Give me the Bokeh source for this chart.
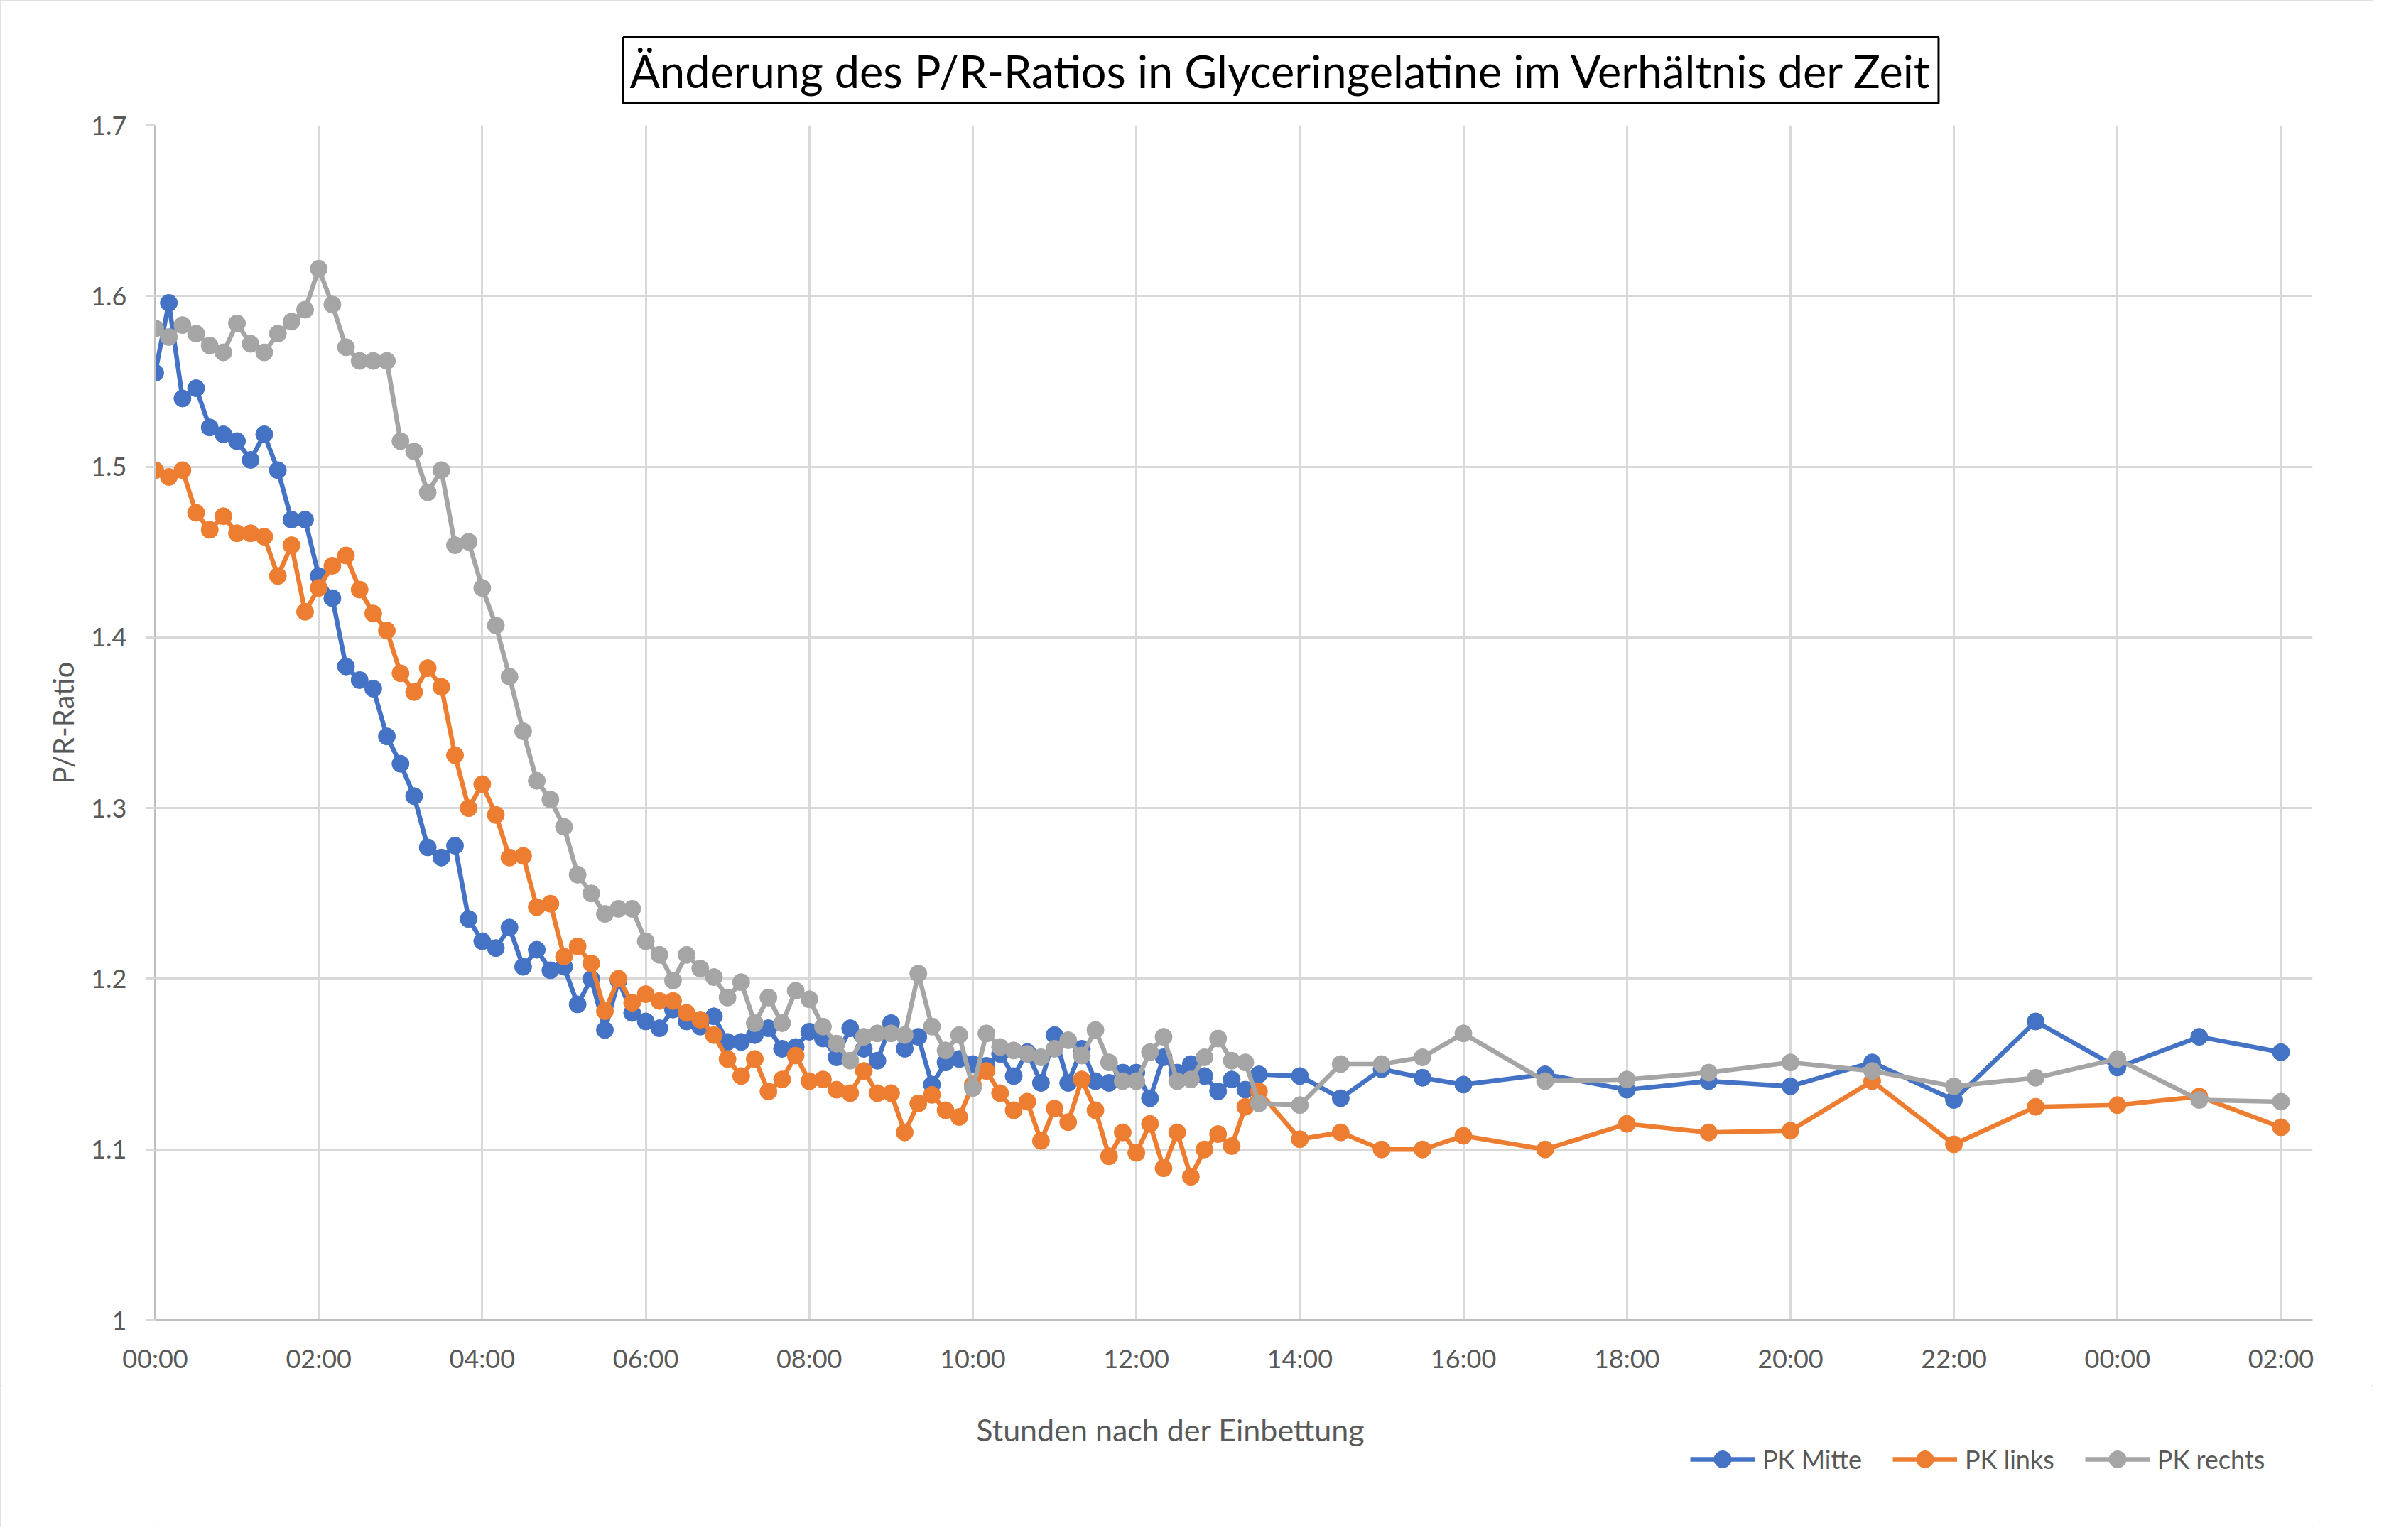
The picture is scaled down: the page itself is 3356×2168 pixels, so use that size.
from bokeh.plotting import figure
from bokeh.layouts import column
from bokeh.models import (Range1d, FixedTicker, CustomJSTickFormatter, Title, Label,
                          Legend, LegendItem)
from bokeh.embed import file_html
from bokeh.resources import INLINE

# --- data -------------------------------------------------------------
minutes = [0, 10, 20, 30, 40, 50, 60, 70, 80, 90,
           100, 110, 120, 130, 140, 150, 160, 170, 180, 190,
           200, 210, 220, 230, 240, 250, 260, 270, 280, 290,
           300, 310, 320, 330, 340, 350, 360, 370, 380, 390,
           400, 410, 420, 430, 440, 450, 460, 470, 480, 490,
           500, 510, 520, 530, 540, 550, 560, 570, 580, 590,
           600, 610, 620, 630, 640, 650, 660, 670, 680, 690,
           700, 710, 720, 730, 740, 750, 760, 770, 780, 790,
           800, 810,
           840, 870, 900, 930, 960, 1020, 1080, 1140, 1200, 1260,
           1320, 1380, 1440, 1500, 1560]

pk_mitte = [1.555, 1.596, 1.540, 1.546, 1.523, 1.519, 1.515, 1.504, 1.519, 1.498,
            1.469, 1.469, 1.436, 1.423, 1.383, 1.375, 1.370, 1.342, 1.326, 1.307,
            1.277, 1.271, 1.278, 1.235, 1.222, 1.218, 1.230, 1.207, 1.217, 1.205,
            1.207, 1.185, 1.200, 1.170, 1.199, 1.180, 1.175, 1.171, 1.182, 1.175,
            1.172, 1.178, 1.163, 1.163, 1.167, 1.171, 1.159, 1.160, 1.169, 1.165,
            1.154, 1.171, 1.159, 1.152, 1.174, 1.159, 1.166, 1.138, 1.151, 1.153,
            1.150, 1.149, 1.156, 1.143, 1.157, 1.139, 1.167, 1.139, 1.159, 1.140,
            1.139, 1.145, 1.145, 1.130, 1.154, 1.145, 1.150, 1.143, 1.134, 1.141,
            1.135, 1.144,
            1.143, 1.130, 1.147, 1.142, 1.138, 1.144, 1.135, 1.140, 1.137, 1.151,
            1.129, 1.175, 1.148, 1.166, 1.157]

pk_links = [1.498, 1.494, 1.498, 1.473, 1.463, 1.471, 1.461, 1.461, 1.459, 1.436,
            1.454, 1.415, 1.429, 1.442, 1.448, 1.428, 1.414, 1.404, 1.379, 1.368,
            1.382, 1.371, 1.331, 1.300, 1.314, 1.296, 1.271, 1.272, 1.242, 1.244,
            1.213, 1.219, 1.209, 1.181, 1.200, 1.186, 1.191, 1.187, 1.187, 1.180,
            1.176, 1.167, 1.153, 1.143, 1.153, 1.134, 1.141, 1.155, 1.140, 1.141,
            1.135, 1.133, 1.146, 1.133, 1.133, 1.110, 1.127, 1.132, 1.123, 1.119,
            1.138, 1.146, 1.133, 1.123, 1.128, 1.105, 1.124, 1.116, 1.141, 1.123,
            1.096, 1.110, 1.098, 1.115, 1.089, 1.110, 1.084, 1.100, 1.109, 1.102,
            1.125, 1.134,
            1.106, 1.110, 1.100, 1.100, 1.108, 1.100, 1.115, 1.110, 1.111, 1.140,
            1.103, 1.125, 1.126, 1.131, 1.113]

pk_rechts = [1.581, 1.576, 1.583, 1.578, 1.571, 1.567, 1.584, 1.572, 1.567, 1.578,
             1.585, 1.592, 1.616, 1.595, 1.570, 1.562, 1.562, 1.562, 1.515, 1.509,
             1.485, 1.498, 1.454, 1.456, 1.429, 1.407, 1.377, 1.345, 1.316, 1.305,
             1.289, 1.261, 1.250, 1.238, 1.241, 1.241, 1.222, 1.214, 1.199, 1.214,
             1.206, 1.201, 1.189, 1.198, 1.174, 1.189, 1.174, 1.193, 1.188, 1.172,
             1.162, 1.152, 1.166, 1.168, 1.168, 1.167, 1.203, 1.172, 1.158, 1.167,
             1.136, 1.168, 1.160, 1.158, 1.156, 1.154, 1.159, 1.164, 1.155, 1.170,
             1.151, 1.140, 1.140, 1.157, 1.166, 1.140, 1.141, 1.154, 1.165, 1.152,
             1.151, 1.127,
             1.126, 1.150, 1.150, 1.154, 1.168, 1.140, 1.141, 1.145, 1.151, 1.146,
             1.137, 1.142, 1.153, 1.129, 1.128]

series_names = ["PK Mitte", "PK links", "PK rechts"]
series_colors = ["#4472C4", "#ED7D31", "#A5A5A5"]
series_values = [pk_mitte, pk_links, pk_rechts]

x_ticks_h = [0, 2, 4, 6, 8, 10, 12, 14, 16, 18, 20, 22, 24, 26]
y_ticks = [1.0, 1.1, 1.2, 1.3, 1.4, 1.5, 1.6, 1.7]

title_text = "Änderung des P/R-Ratios in Glyceringelatine im Verhältnis der Zeit"
x_title = "Stunden nach der Einbettung"
y_title = "P/R-Ratio"

hours = [m / 60.0 for m in minutes]

FONT = "Lato"
TXT = "#595959"
W = 3340
H_MAIN = 1950
H_FOOT = 200

# ---------------- main chart ----------------
x_range = Range1d(0, 26.387)
p = figure(width=W, height=H_MAIN, output_backend="svg", toolbar_location=None,
           x_range=x_range, y_range=Range1d(1.0, 1.7),
           min_border_left=218, min_border_right=W - 3255, min_border_top=176,
           min_border_bottom=H_MAIN - 1858, title=None)
p.outline_line_color = None
p.background_fill_color = "white"
p.border_fill_color = "white"

p.xgrid.ticker = FixedTicker(ticks=x_ticks_h)
p.ygrid.ticker = FixedTicker(ticks=y_ticks)
for g in (p.xgrid, p.ygrid):
    g.grid_line_color = "#D9D9D9"
    g.grid_line_width = 3

xa = p.xaxis[0]
xa.ticker = FixedTicker(ticks=x_ticks_h)
xa.formatter = CustomJSTickFormatter(code="""
const h = Math.round(tick) % 24;
return (h < 10 ? '0' : '') + h + ':00';
""")
xa.axis_line_color = "#BFBFBF"
xa.axis_line_width = 3
xa.major_tick_out = 0
xa.major_tick_in = 0
xa.minor_tick_out = 0
xa.minor_tick_in = 0
xa.major_label_standoff = 31
xa.major_label_text_font = FONT
xa.major_label_text_font_size = "36px"
xa.major_label_text_color = TXT

ya = p.yaxis[0]
ya.ticker = FixedTicker(ticks=y_ticks)
ya.formatter = CustomJSTickFormatter(code="return String(Math.round(tick * 10) / 10);")
ya.axis_line_color = "#BFBFBF"
ya.axis_line_width = 3
ya.major_tick_out = 13
ya.major_tick_in = 0
ya.major_tick_line_color = "#D9D9D9"
ya.major_tick_line_width = 3
ya.minor_tick_out = 0
ya.minor_tick_in = 0
ya.major_label_standoff = 27
ya.major_label_text_font = FONT
ya.major_label_text_font_size = "36px"
ya.major_label_text_color = TXT
ya.axis_label = y_title
ya.axis_label_text_font = FONT
ya.axis_label_text_font_size = "40px"
ya.axis_label_text_font_style = "normal"
ya.axis_label_text_color = TXT
ya.axis_label_standoff = 12

for name, ys, col in zip(series_names, series_values, series_colors):
    p.line(hours, ys, line_color=col, line_width=6.5)
    p.scatter(hours, ys, size=24, fill_color=col, line_color=col, line_width=1)

p.title = Title(text=title_text, align="left", offset=659, standoff=62,
                text_font=FONT, text_font_size="63px", text_font_style="normal",
                text_color="black", border_line_color="black", border_line_width=3,
                background_fill_color="white", padding=9)

# ---------------- footer: axis title + legend (frame aligned with chart) ----
f = figure(width=W, height=H_FOOT, output_backend="svg", toolbar_location=None,
           x_range=x_range, y_range=Range1d(0, H_FOOT),
           x_axis_type=None, y_axis_type=None,
           min_border_left=218, min_border_right=W - 3255, min_border_top=0,
           min_border_bottom=0, title=None)
f.outline_line_color = None
f.background_fill_color = "white"
f.border_fill_color = "white"
f.xgrid.visible = False
f.ygrid.visible = False
# legend proxies: the same series on a y range that keeps them out of view
f.extra_y_ranges = {"offscreen": Range1d(100, 200)}

items = []
for name, ys, col in zip(series_names, series_values, series_colors):
    ln = f.line(hours, ys, line_color=col, line_width=6.5, y_range_name="offscreen")
    sc = f.scatter(hours, ys, size=24, fill_color=col, line_color=col, line_width=1,
                   y_range_name="offscreen")
    items.append(LegendItem(label=name, renderers=[ln, sc]))

legend = Legend(items=items, orientation="horizontal", location=(2161, 66),
                border_line_color=None, background_fill_alpha=0,
                label_text_font=FONT, label_text_font_size="36px",
                label_text_color=TXT, glyph_width=91, glyph_height=60,
                label_standoff=11, spacing=43, padding=0, margin=0)
f.add_layout(legend)

xt = Label(x=12.42, y=H_FOOT - (2012 - H_MAIN), text=x_title, text_align="center",
           text_baseline="middle", text_font=FONT, text_font_size="43px",
           text_color=TXT)
f.add_layout(xt)

layout = column(p, f, spacing=0)
layout.styles = {"outline": "3px solid #D9D9D9", "outline-offset": "-3px"}

open("out.html", "w").write(file_html(layout, INLINE))
